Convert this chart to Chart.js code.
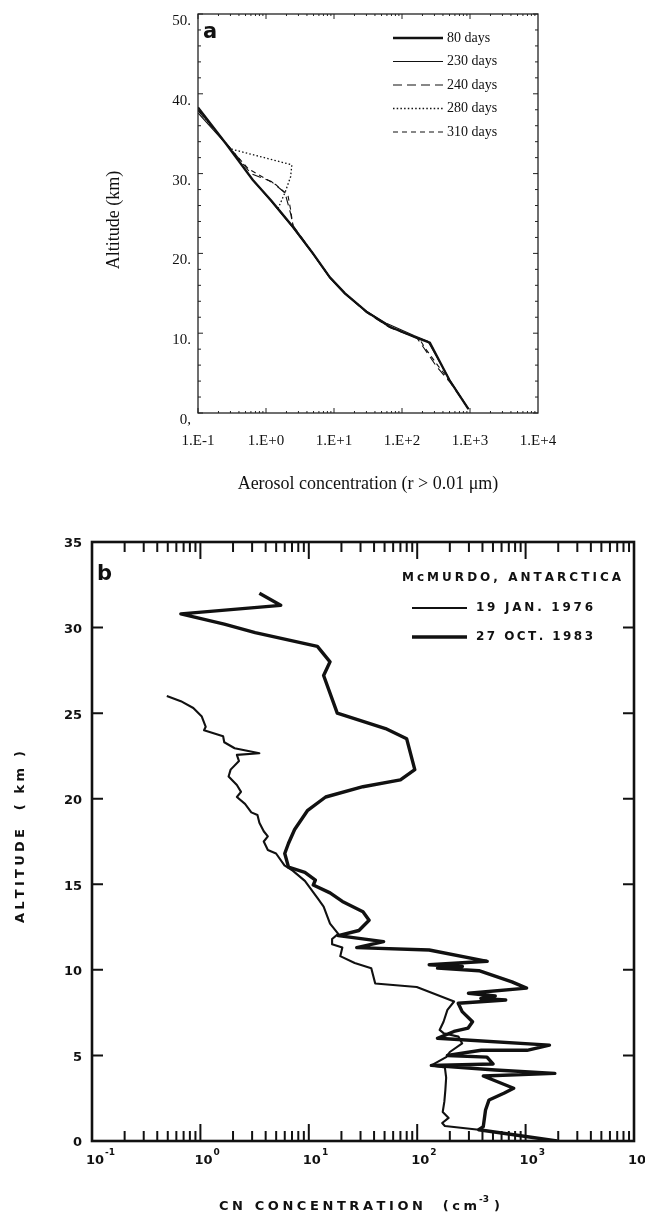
<!DOCTYPE html>
<html>
<head>
<meta charset="utf-8">
<script src="https://cdn.jsdelivr.net/npm/chart.js@4.4.1/dist/chart.umd.min.js"></script>
<style>
html, body { margin: 0; padding: 0; background: #fff; }
#wrap { position: relative; width: 645px; height: 1213px; }
#boxA { position: absolute; left: 0; top: 0; width: 645px; height: 500px; }
#boxB { position: absolute; left: 0; top: 500px; width: 645px; height: 713px; }
</style>
</head>
<body>
<div id="wrap">
  <div id="boxA"><canvas id="chartA"></canvas></div>
  <div id="boxB"><canvas id="chartB"></canvas></div>
</div>
<script>
// ---- panel a : model aerosol profiles ----
const aConc80  = [0.1, 0.25, 0.64, 1.2, 2.5, 4.9, 8.7, 14.5, 30, 66, 166, 257, 500, 950];
const aAlt80   = [38.3, 33.9, 29.2, 26.6, 23.3, 20.0, 17.0, 15.0, 12.7, 10.8, 9.4, 8.8, 4.1, 0.5];
const aConc230 = [0.1, 0.3, 0.64, 1.2, 2.5, 4.9, 8.7, 14.5, 28, 60, 150, 240, 500, 950];
const aAlt230  = [37.6, 33.1, 29.2, 26.5, 23.2, 19.9, 16.9, 14.9, 12.9, 11.2, 9.7, 9.0, 4.2, 0.5];
const aConc240 = [0.1, 0.3, 0.6, 1.2, 1.9, 2.3, 2.5, 4.9, 8.7, 14.5, 30, 66, 166, 204, 324, 513, 950];
const aAlt240  = [37.9, 33.2, 30.0, 29.0, 27.6, 25.0, 23.5, 20.0, 17.0, 15.0, 12.6, 10.7, 9.4, 8.3, 5.8, 3.8, 0.5];
const aConc280 = [0.1, 0.3, 2.4, 2.3, 1.9, 1.5, 2.5, 4.9, 8.7, 14.5, 30, 66, 166, 257, 500, 950];
const aAlt280  = [38.0, 33.1, 31.1, 29.6, 27.6, 25.6, 23.3, 20.0, 17.0, 15.0, 12.7, 10.8, 9.4, 8.8, 4.1, 0.5];
const aConc310 = [0.1, 0.3, 0.55, 1.4, 2.1, 2.3, 2.5, 4.9, 8.7, 14.5, 30, 66, 180, 220, 340, 520, 950];
const aAlt310  = [38.0, 33.1, 30.6, 28.6, 27.3, 25.5, 23.4, 20.0, 17.0, 15.0, 12.7, 10.8, 9.3, 8.1, 5.9, 3.9, 0.5];
const aLegend  = ['80 days', '230 days', '240 days', '280 days', '310 days'];
const aTickVals = [0.1, 1, 10, 100, 1000, 10000];
const aTickText = ['1.E-1', '1.E+0', '1.E+1', '1.E+2', '1.E+3', '1.E+4'];
const aAltTicks = [0, 10, 20, 30, 40, 50];
const aAltText  = ['0,', '10.', '20.', '30.', '40.', '50.'];

// ---- panel b : McMurdo CN soundings ----
const jan76Conc = [0.49, 0.66, 0.86, 1.03, 1.12, 1.08, 1.62, 1.66, 2.07, 3.5, 2.17, 2.27, 1.9, 1.82, 2.17,
  2.37, 2.17, 2.58, 2.95, 3.36, 3.5, 3.84, 4.19, 3.84, 4.19, 4.99, 5.96, 7.1, 9.2, 12.0, 13.7, 15.7, 18.7,
  16.4, 16.4, 20.4, 19.5, 26.5, 37.7, 41, 99, 219, 190, 175, 161, 175, 240, 260, 200, 185, 135, 180, 185,
  182, 178, 172, 195, 170, 180, 370];
const jan76Alt  = [26.0, 25.7, 25.3, 24.8, 24.2, 24.0, 23.65, 23.3, 22.95, 22.66, 22.56, 22.2, 21.7, 21.3, 20.8,
  20.4, 20.1, 19.7, 19.2, 19.05, 18.6, 18.1, 17.8, 17.5, 17.0, 16.8, 16.1, 15.8, 15.2, 14.2, 13.7, 12.7, 12.1,
  11.8, 11.5, 11.3, 10.8, 10.4, 10.1, 9.2, 9.0, 8.15, 7.66, 6.97, 6.49, 6.3, 6.1, 5.7, 5.2, 4.9, 4.42, 4.3, 3.7,
  3.0, 2.3, 1.7, 1.35, 1.05, 0.88, 0.66];
const oct83Conc = [3.5, 5.5, 0.66, 1.66, 3.2, 12, 15.7, 13.7, 18.3, 51, 80, 95, 70, 31.6, 14.3, 9.7, 7.4, 6.5,
  6.0, 6.5, 9.2, 11.5, 11, 15.7, 20.4, 31.6, 36, 29, 18.7, 49, 27.7, 129, 442, 129, 261, 154, 371, 748, 1020,
  297, 525, 387, 656, 239, 260, 324, 295, 218, 154, 1660, 1030, 390, 190, 440, 500, 135, 525, 1860, 407, 776,
  630, 460, 427, 407, 370, 1950];
const oct83Alt  = [32.0, 31.3, 30.8, 30.2, 29.7, 28.9, 28.0, 27.2, 25.0, 24.1, 23.5, 21.7, 21.1, 20.7, 20.1, 19.3,
  18.2, 17.4, 16.8, 16.0, 15.7, 15.25, 14.96, 14.5, 14.0, 13.4, 12.9, 12.3, 12.0, 11.65, 11.3, 11.16, 10.5, 10.3,
  10.2, 10.1, 9.95, 9.3, 8.93, 8.63, 8.47, 8.33, 8.24, 8.05, 7.56, 6.97, 6.6, 6.4, 6.0, 5.6, 5.3, 5.3, 5.0, 4.9,
  4.5, 4.42, 4.15, 3.95, 3.8, 3.08, 2.79, 2.4, 1.81, 0.84, 0.66, 0.0];
const bLegend = ['19 JAN. 1976', '27 OCT. 1983'];
const bDecades = [-1, 0, 1, 2, 3, 4];
const bAltTicks = [0, 5, 10, 15, 20, 25, 30, 35];

const ink = '#111';

function pts(xs, ys) {
  return xs.map((v, i) => ({ x: v, y: ys[i] }));
}

// draw text one glyph at a time, spread to fill a given width
function spaced(ctx, text, x, y, width) {
  const chars = [...text];
  const natural = chars.reduce((s, c) => s + ctx.measureText(c).width, 0);
  const gap = chars.length > 1 ? (width - natural) / (chars.length - 1) : 0;
  let cx = x;
  ctx.textAlign = 'left';
  chars.forEach(c => {
    ctx.fillText(c, cx, y);
    cx += ctx.measureText(c).width + gap;
  });
  return cx - gap;
}

function logTicks(ctx, xs, yAxis, dir, minorLen, majorLen, from, to) {
  for (let d = from; d < to; d++) {
    for (let m = 1; m <= 9; m++) {
      const px = xs.getPixelForValue(m * Math.pow(10, d));
      const len = m === 1 ? majorLen : minorLen;
      ctx.beginPath();
      ctx.moveTo(px, yAxis);
      ctx.lineTo(px, yAxis + dir * len);
      ctx.stroke();
    }
  }
}

// ---------- panel a ----------
const aStyles = [
  { w: 2.3, dash: [] },
  { w: 1.1, dash: [] },
  { w: 1.1, dash: [9, 5] },
  { w: 1.3, dash: [1.5, 2.2] },
  { w: 1.1, dash: [5, 4] }
];
const aSeries = [
  pts(aConc80, aAlt80), pts(aConc230, aAlt230), pts(aConc240, aAlt240),
  pts(aConc280, aAlt280), pts(aConc310, aAlt310)
];

const panelA = {
  id: 'panelA',
  afterDraw(chart) {
    const { ctx, chartArea: a, scales: { x, y } } = chart;
    ctx.save();
    ctx.strokeStyle = '#222';
    ctx.fillStyle = ink;
    ctx.lineWidth = 1.3;
    ctx.setLineDash([]);
    ctx.strokeRect(a.left, a.top, a.right - a.left, a.bottom - a.top);

    ctx.lineWidth = 1;
    logTicks(ctx, x, a.bottom, -1, 2, 5, -1, 4);
    logTicks(ctx, x, a.top, 1, 2, 5, -1, 4);
    for (let v = 0; v <= 50; v += 2) {
      const py = y.getPixelForValue(v);
      const len = v % 10 === 0 ? 5 : 3;
      ctx.beginPath();
      ctx.moveTo(a.left, py); ctx.lineTo(a.left + len, py);
      ctx.moveTo(a.right, py); ctx.lineTo(a.right - len, py);
      ctx.stroke();
    }

    ctx.font = '15px "Liberation Serif"';
    ctx.textBaseline = 'middle';
    ctx.textAlign = 'center';
    aTickVals.forEach((v, i) => ctx.fillText(aTickText[i], x.getPixelForValue(v), 441));
    ctx.textAlign = 'right';
    aAltTicks.forEach((v, i) => ctx.fillText(aAltText[i], a.left - 7, y.getPixelForValue(v) + 7));

    ctx.font = '18px "Liberation Serif"';
    ctx.textAlign = 'center';
    ctx.fillText('Aerosol concentration (r > 0.01 \u03bcm)', 368, 484);
    ctx.save();
    ctx.translate(114, 220);
    ctx.rotate(-Math.PI / 2);
    ctx.fillText('Altitude (km)', 0, 0);
    ctx.restore();

    ctx.font = 'bold 21px "DejaVu Sans"';
    ctx.textAlign = 'left';
    ctx.textBaseline = 'alphabetic';
    ctx.fillText('a', 203, 38);

    // legend
    ctx.font = '14px "Liberation Serif"';
    ctx.textBaseline = 'middle';
    aLegend.forEach((t, i) => {
      const ly = 38 + i * 23.5;
      ctx.strokeStyle = ink;
      ctx.lineWidth = aStyles[i].w;
      ctx.setLineDash(aStyles[i].dash);
      ctx.beginPath();
      ctx.moveTo(393, ly); ctx.lineTo(443, ly);
      ctx.stroke();
      ctx.fillText(t, 447, ly);
    });
    ctx.restore();
  }
};

new Chart(document.getElementById('chartA'), {
  type: 'scatter',
  data: {
    datasets: aSeries.map((d, i) => ({
      label: aLegend[i],
      data: d,
      showLine: true,
      pointRadius: 0,
      borderColor: ink,
      borderWidth: aStyles[i].w,
      borderDash: aStyles[i].dash,
      tension: 0
    }))
  },
  options: {
    responsive: true,
    maintainAspectRatio: false,
    animation: false,
    devicePixelRatio: 1,
    layout: { padding: { left: 198, top: 14, right: 107, bottom: 87 } },
    plugins: { legend: { display: false }, tooltip: { enabled: false } },
    scales: {
      x: { type: 'logarithmic', min: 0.1, max: 10000, display: false },
      y: { type: 'linear', min: 0, max: 50, display: false }
    }
  },
  plugins: [panelA]
});

// ---------- panel b ----------
const bWidths = [2.1, 3.4];

const panelB = {
  id: 'panelB',
  afterDraw(chart) {
    const { ctx, chartArea: a, scales: { x, y } } = chart;
    ctx.save();
    ctx.strokeStyle = ink;
    ctx.fillStyle = ink;
    ctx.lineWidth = 2.6;
    ctx.strokeRect(a.left, a.top, a.right - a.left, a.bottom - a.top);

    ctx.lineWidth = 2;
    logTicks(ctx, x, a.bottom, -1, 10, 17, -1, 4);
    logTicks(ctx, x, a.top, 1, 10, 17, -1, 4);
    bAltTicks.forEach(v => {
      const py = y.getPixelForValue(v);
      ctx.beginPath();
      ctx.moveTo(a.left, py); ctx.lineTo(a.left + 11, py);
      ctx.moveTo(a.right, py); ctx.lineTo(a.right - 11, py);
      ctx.stroke();
    });

    ctx.font = 'bold 13px "DejaVu Sans"';
    ctx.textBaseline = 'middle';
    ctx.textAlign = 'right';
    bAltTicks.forEach(v => ctx.fillText(String(v), a.left - 10, y.getPixelForValue(v) + 2));

    ctx.textBaseline = 'alphabetic';
    bDecades.forEach(d => {
      const px = x.getPixelForValue(Math.pow(10, d));
      ctx.font = 'bold 13px "DejaVu Sans"';
      ctx.textAlign = 'left';
      ctx.fillText('10', px - 6, 664);
      const w = ctx.measureText('10').width;
      ctx.font = 'bold 9px "DejaVu Sans"';
      ctx.fillText(d < 0 ? '-' + Math.abs(d) : String(d), px - 5 + w, 655);
    });

    // axis titles
    ctx.font = 'bold 13px "DejaVu Sans"';
    let end = spaced(ctx, 'CN CONCENTRATION  (cm', 219, 710, 258);
    ctx.font = 'bold 9px "DejaVu Sans"';
    ctx.fillText('-3', end + 2, 702);
    end += ctx.measureText('-3').width + 7;
    ctx.font = 'bold 13px "DejaVu Sans"';
    ctx.fillText(')', end, 710);

    ctx.save();
    ctx.translate(24, 423);
    ctx.rotate(-Math.PI / 2);
    spaced(ctx, 'ALTITUDE  ( km )', 0, 0, 172);
    ctx.restore();

    ctx.font = 'bold 21px "DejaVu Sans"';
    ctx.fillText('b', 97, 80);

    // legend
    ctx.font = 'bold 12px "DejaVu Sans"';
    ctx.textBaseline = 'middle';
    spaced(ctx, 'McMURDO, ANTARCTICA', 402, 78, 219);
    bLegend.forEach((t, i) => {
      const ly = 108 + i * 29;
      ctx.lineWidth = bWidths[i];
      ctx.beginPath();
      ctx.moveTo(412, ly); ctx.lineTo(467, ly);
      ctx.stroke();
      spaced(ctx, t, 476, ly, 117);
    });
    ctx.restore();
  }
};

new Chart(document.getElementById('chartB'), {
  type: 'scatter',
  data: {
    datasets: [
      { label: bLegend[0], data: pts(jan76Conc, jan76Alt) },
      { label: bLegend[1], data: pts(oct83Conc, oct83Alt) }
    ].map((d, i) => Object.assign(d, {
      showLine: true,
      pointRadius: 0,
      borderColor: ink,
      borderWidth: bWidths[i],
      borderJoinStyle: 'round',
      tension: 0
    }))
  },
  options: {
    responsive: true,
    maintainAspectRatio: false,
    animation: false,
    devicePixelRatio: 1,
    layout: { padding: { left: 92, top: 42, right: 11, bottom: 72 } },
    plugins: { legend: { display: false }, tooltip: { enabled: false } },
    scales: {
      x: { type: 'logarithmic', min: 0.1, max: 10000, display: false },
      y: { type: 'linear', min: 0, max: 35, display: false }
    }
  },
  plugins: [panelB]
});
</script>
</body>
</html>
